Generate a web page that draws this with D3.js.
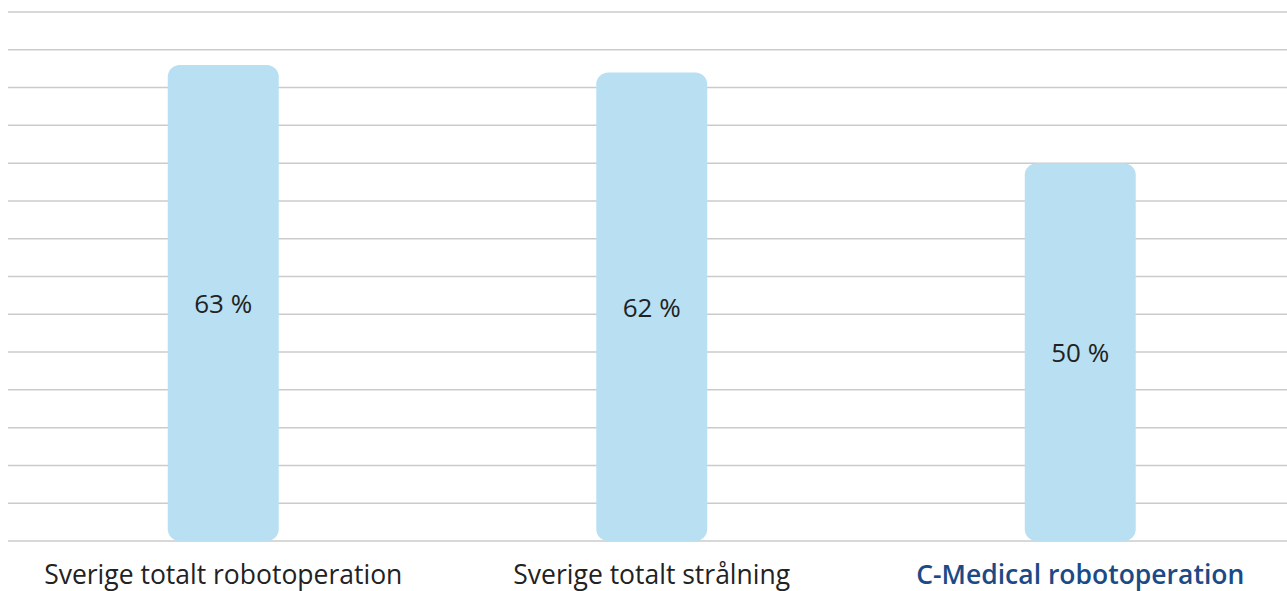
<!DOCTYPE html>
<html>
<head>
<meta charset="utf-8">
<script src="https://cdn.jsdelivr.net/npm/d3@7"></script>
<style>
  body { margin: 0; background: #fff; }
  svg { display: block; }
</style>
</head>
<body>
<div id="chart"></div>
<script>
var categories = ["Sverige totalt robotoperation", "Sverige totalt strålning", "C-Medical robotoperation"];
var values = [63, 62, 50];
var valueLabels = ["63 %", "62 %", "50 %"];
var highlight = [false, false, true];
var gridTicks = d3.range(0, 75, 5);

var width = 1287, height = 591;

var svg = d3.select("#chart")
            .append("svg")
            .attr("width", width)
            .attr("height", height);

var x = d3.scaleBand()
          .domain(categories)
          .range([9, 1294.5])
          .paddingInner(0.74)
          .paddingOuter(0.37);

var y = d3.scaleLinear()
          .domain([0, 70])
          .range([541, 12]);

svg.selectAll("line.grid")
   .data(gridTicks)
   .enter()
   .append("line")
   .attr("class", "grid")
   .attr("x1", 8)
   .attr("x2", width)
   .attr("y1", function(d) { return y(d); })
   .attr("y2", function(d) { return y(d); })
   .attr("stroke", "#cbcbcb")
   .attr("stroke-width", 1.5);

// bar centred on band, fixed width
var barW = 111;
svg.selectAll("rect.bar")
   .data(values)
   .enter()
   .append("rect")
   .attr("class", "bar")
   .attr("x", function(d, i) { return x(categories[i]) + x.bandwidth() / 2 - barW / 2; })
   .attr("y", function(d) { return y(d); })
   .attr("width", barW)
   .attr("height", function(d) { return y(0) - y(d); })
   .attr("rx", 12)
   .attr("ry", 12)
   .attr("fill", "#b8e0f2");

svg.selectAll("text.val")
   .data(values)
   .enter()
   .append("text")
   .attr("class", "val")
   .text(function(d, i) { return valueLabels[i]; })
   .attr("x", function(d, i) { return x(categories[i]) + x.bandwidth() / 2; })
   .attr("y", function(d) { return (y(d) + y(0)) / 2 + 10; })
   .attr("text-anchor", "middle")
   .attr("font-family", "'Open Sans', sans-serif")
   .attr("font-size", "26px")
   .attr("fill", "#222");

svg.selectAll("text.cat")
   .data(categories)
   .enter()
   .append("text")
   .attr("class", "cat")
   .text(function(d) { return d; })
   .attr("x", function(d) { return x(d) + x.bandwidth() / 2; })
   .attr("y", 583.5)
   .attr("text-anchor", "middle")
   .attr("font-family", "'Open Sans', sans-serif")
   .attr("font-size", "26.5px")
   .attr("font-weight", function(d, i) { return highlight[i] ? 600 : 400; })
   .attr("fill", function(d, i) { return highlight[i] ? "#1c4a86" : "#222"; });
</script>
</body>
</html>
